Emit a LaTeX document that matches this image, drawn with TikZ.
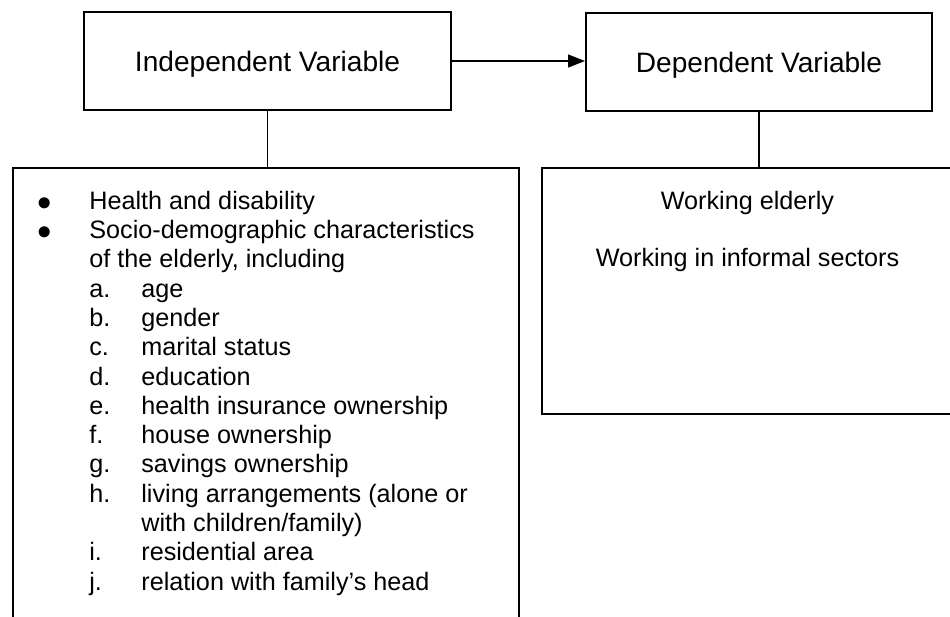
\documentclass[tikz,border=0pt]{standalone}
\usepackage{fontspec}
\setmainfont{Liberation Sans}
\usetikzlibrary{arrows.meta,positioning}

% list lines of the factor box
\newcommand{\listdot}{\smash{\raisebox{-0.6pt}{\fontsize{15}{15}\selectfont$\bullet$}}}
\newcommand{\listbul}[1]{\makebox[26.5pt][l]{\hspace{0.75pt}\listdot}#1}
\newcommand{\listcont}[1]{\hspace*{26.5pt}#1}
\newcommand{\listsub}[2]{\hspace*{26.5pt}\makebox[26pt][l]{#1}#2}

\begin{document}
\begin{tikzpicture}
  [x=0.5pt, y=-0.5pt, >={Triangle[length=8.5pt,width=6.5pt]},
   varbox/.style={rectangle, draw=black, line width=1pt, text depth=0pt,
     font=\fontsize{14.05}{16}\selectfont},
   textbox/.style={rectangle, draw=black, line width=1pt, anchor=north west},
   bodytext/.style={inner sep=0pt, font=\fontsize{12.6}{14.65}\selectfont},
   link/.style={line width=0.65pt}]

  \useasboundingbox (0,0) rectangle (950,617);
  \clip (0,0) rectangle (950,617);

  % variable boxes
  \node[varbox, minimum width=183.5pt, minimum height=49pt] (indep) at (267.5,61) {Independent Variable};
  \node[varbox, minimum width=173pt, minimum height=49pt] (dep) at (759,62) {Dependent Variable};

  % content boxes
  \node[textbox, minimum width=253pt, minimum height=240pt] (factors) at (12,167) {};
  \node[textbox, minimum width=205.5pt, minimum height=123pt] (outcome) at (541,167) {};

  \node[bodytext, anchor=north west, align=left] (factorlist)
    at ([xshift=12pt, yshift=-11.8pt]factors.north west) {%
    \listbul{Health and disability}\\
    \listbul{Socio-demographic characteristics}\\
    \listcont{of the elderly, including}\\
    \listsub{a.}{age}\\
    \listsub{b.}{gender}\\
    \listsub{c.}{marital status}\\
    \listsub{d.}{education}\\
    \listsub{e.}{health insurance ownership}\\
    \listsub{f.}{house ownership}\\
    \listsub{g.}{savings ownership}\\
    \listsub{h.}{living arrangements (alone or}\\
    \listsub{}{with children/family)}\\
    \listsub{i.}{residential area}\\
    \listsub{j.}{relation with family’s head}};

  \node[bodytext, align=center, below=12pt of outcome.north] (outtext)
    {Working elderly\\[13.85pt]Working in informal sectors};

  % connectors
  \draw[link, ->] (indep.east) -- (indep.east -| dep.west);
  \draw[link] (indep.south) -- (indep.south |- factors.north);
  \draw[link] (dep.south) -- (dep.south |- outcome.north);

\end{tikzpicture}
\end{document}
